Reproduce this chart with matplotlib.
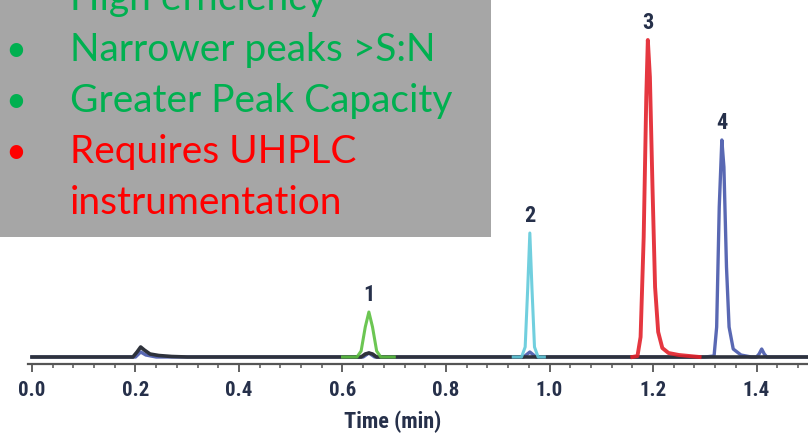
import matplotlib
matplotlib.use('Agg')
import matplotlib.pyplot as plt
from matplotlib.patches import Rectangle
from matplotlib.ticker import MultipleLocator
from matplotlib import font_manager

# chromatogram traces (time in min, detector signal in arbitrary units)
base_t = [0.0, 0.195, 0.203, 0.210, 0.217, 0.228, 0.245, 0.27, 0.30,
          0.636, 0.644, 0.651, 0.658, 0.666, 1.5]
base_s = [0, 0, 5, 10, 7, 3, 1.5, 0.5, 0,
          0, 3, 4, 3, 0, 0]

blue_t = [0.0, 0.20, 0.21, 0.22, 0.24, 0.64, 0.651, 0.662, 0.95, 0.962, 0.974,
          1.30, 1.318, 1.323, 1.328, 1.333, 1.337, 1.342, 1.347, 1.355, 1.37,
          1.39, 1.40, 1.405, 1.41, 1.415, 1.42, 1.5]
blue_s = [0, 0, 5, 2, 0, 0, 4, 0, 0, 5, 0,
          0, 1, 30, 150, 217, 190, 90, 30, 8, 2,
          0, 0, 3, 8, 3, 0, 0]

green_t = [0.60, 0.628, 0.636, 0.644, 0.651, 0.658, 0.666, 0.674, 0.70]
green_s = [0, 0, 6, 30, 45, 30, 6, 0, 0]

cyan_t = [0.93, 0.946, 0.953, 0.958, 0.962, 0.966, 0.971, 0.978, 0.99]
cyan_s = [0, 0, 10, 70, 124, 70, 10, 0, 0]

red_t = [1.16, 1.17, 1.176, 1.182, 1.187, 1.190, 1.194, 1.199, 1.204,
         1.210, 1.218, 1.23, 1.25, 1.29]
red_s = [0, 1, 20, 120, 260, 317, 280, 170, 70,
         25, 9, 4, 2, 0]

peak_ids = ['1', '2', '3', '4']
peak_times = [0.651, 0.962, 1.190, 1.333]
peak_heights = [45, 124, 317, 217]

bullets = ['High efficiency', 'Narrower peaks >S:N', 'Greater Peak Capacity',
           'Requires UHPLC', 'instrumentation']
bullet_marks = [False, True, True, True, False]
bullet_colors = ['#00b050', '#00b050', '#00b050', '#ff0000', '#ff0000']

# pick a condensed face for the axis text if one is installed
names = {f.name for f in font_manager.fontManager.ttflist}
narrow, stretch = 'DejaVu Sans', 'condensed'
for cand in ('Liberation Sans Narrow', 'Roboto Condensed', 'Open Sans Condensed'):
    if cand in names:
        narrow, stretch = cand, 'normal'
        break
ink = '#26304a'
axis_font = dict(family=narrow, fontweight='bold', fontstretch=stretch, color=ink)

fig = plt.figure(figsize=(8.08, 4.33), dpi=100)
ax = fig.add_axes([28 / 808, 69 / 433, 780 / 808, 364 / 433])
ax.set_xlim(-0.0077, 1.4995)
ax.set_ylim(-7, 357)

ax.plot(blue_t, blue_s, color='#3c4ea6', lw=2.4, alpha=0.85, zorder=2)
ax.plot(base_t, base_s, color='#2e323c', lw=2.6, zorder=3)
ax.plot(green_t, green_s, color='#5cc040', lw=2.2, alpha=0.9, zorder=4)
ax.plot(cyan_t, cyan_s, color='#62cadb', lw=2.2, alpha=0.9, zorder=4)
ax.plot(red_t, red_s, color='#e3212b', lw=2.8, alpha=0.9, zorder=5)

for pid, t, h in zip(peak_ids, peak_times, peak_heights):
    ax.annotate(pid, (t, h), xytext=(0, 4), textcoords='offset points',
                ha='center', va='bottom', fontsize=16, **axis_font)

for side in ('left', 'right', 'top'):
    ax.spines[side].set_visible(False)
ax.spines['bottom'].set_color('#555555')
ax.spines['bottom'].set_linewidth(1.6)
ax.set_yticks([])
ax.xaxis.set_minor_locator(MultipleLocator(0.04))
ax.tick_params(axis='x', which='major', length=6, width=1.3, color='#555555', pad=6)
ax.tick_params(axis='x', which='minor', length=3, width=1.1, color='#555555')
ax.set_xticks([0.0, 0.2, 0.4, 0.6, 0.8, 1.0, 1.2, 1.4])
ax.set_xticklabels(['0.0', '0.2', '0.4', '0.6', '0.8', '1.0', '1.2', '1.4'],
                   fontsize=15, **axis_font)
ax.set_xlabel('Time (min)', fontsize=16, **axis_font)
ax.xaxis.set_label_coords(0.468, -0.128)

# grey callout box with the bullet list
fig.add_artist(Rectangle((0, 1 - 237 / 433), 491 / 808, 237 / 433,
                         transform=fig.transFigure, facecolor='#a6a6a6',
                         edgecolor='none', zorder=10))
for i, (txt, mark, col) in enumerate(zip(bullets, bullet_marks, bullet_colors)):
    yb = 1 - (10 + 51 * i) / 433
    if mark:
        fig.text(16 / 808, yb, '\u2022', color=col, fontsize=26, family='Lato',
                 ha='center', va='baseline', zorder=11)
    fig.text(70 / 808, yb, txt, color=col, fontsize=28, family='Lato',
             ha='left', va='baseline', zorder=11)

fig.savefig('out.png', dpi=100)
